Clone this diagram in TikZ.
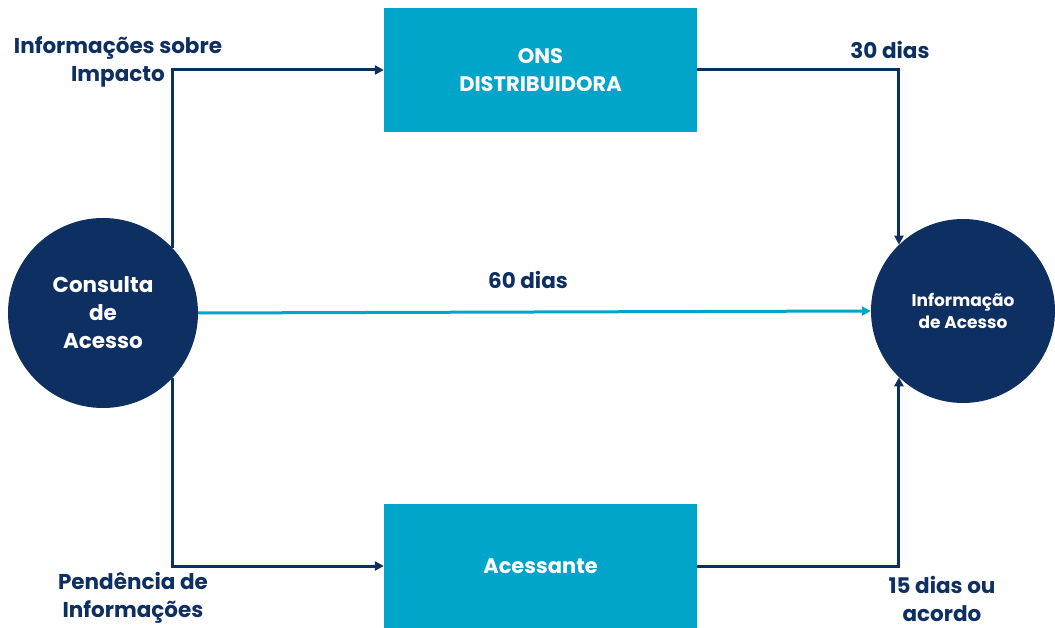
\documentclass[tikz,border=0pt]{standalone}
\usepackage{fontspec}
\setmainfont{Poppins}
\usetikzlibrary{arrows.meta}
\definecolor{navy}{HTML}{0D2F62}
\definecolor{cyanb}{HTML}{00A5C9}
\tikzset{
  circ/.style={circle, fill=navy, draw=none, minimum size=#1, inner sep=0pt, text=white, font=\bfseries\fontsize{21.5}{28}\selectfont, align=center},
  boxn/.style={rectangle, fill=cyanb, draw=none, minimum width=313pt, minimum height=124pt, inner sep=0pt, text=white, font=\bfseries\fontsize{21}{28}\selectfont, align=center},
  conn/.style={draw=navy, line width=3pt, -{Triangle[length=9pt,width=9pt]}},
  midconn/.style={draw=cyanb, line width=3pt, -{Triangle[length=9pt,width=9pt]}},
  lbl/.style={text=navy, font=\bfseries\fontsize{21.5}{28.5}\selectfont, inner sep=0pt}
}
\begin{document}
\begin{tikzpicture}[x=1pt,y=-1pt]
\useasboundingbox (0,0) rectangle (1055,628);
\node[circ=190pt] (L) at (103,313) {Consulta\\de\\Acesso};
\node[circ=184pt, font=\bfseries\fontsize{17}{22}\selectfont] (R) at (963,311) {Informação\\de Acesso};
\node[boxn] (ons) at (540.5,70) {ONS\\DISTRIBUIDORA};
\node[boxn] (aces) at (540.5,566) {Acessante};
\draw[conn] (L.43.4) |- (ons.west);
\draw[conn] (L.-43.4) |- (aces.west);
\draw[conn] (ons.east) -| (R.134.1);
\draw[conn] (aces.east) -| (R.-134.1);
\draw[midconn] (L.east) -- (R.west);
\node[lbl, align=center] (t1) at (118,62) {Informações sobre\\Impacto};
\node[lbl, align=center] (t2) at (890,50) {30 dias};
\node[lbl, align=center] (t3) at (528,280) {60 dias};
\node[lbl, align=center] (t4) at (133,598) {Pendência de\\Informações};
\node[lbl, align=center] (t5) at (942,599) {15 dias ou\\acordo};
\end{tikzpicture}
\end{document}
